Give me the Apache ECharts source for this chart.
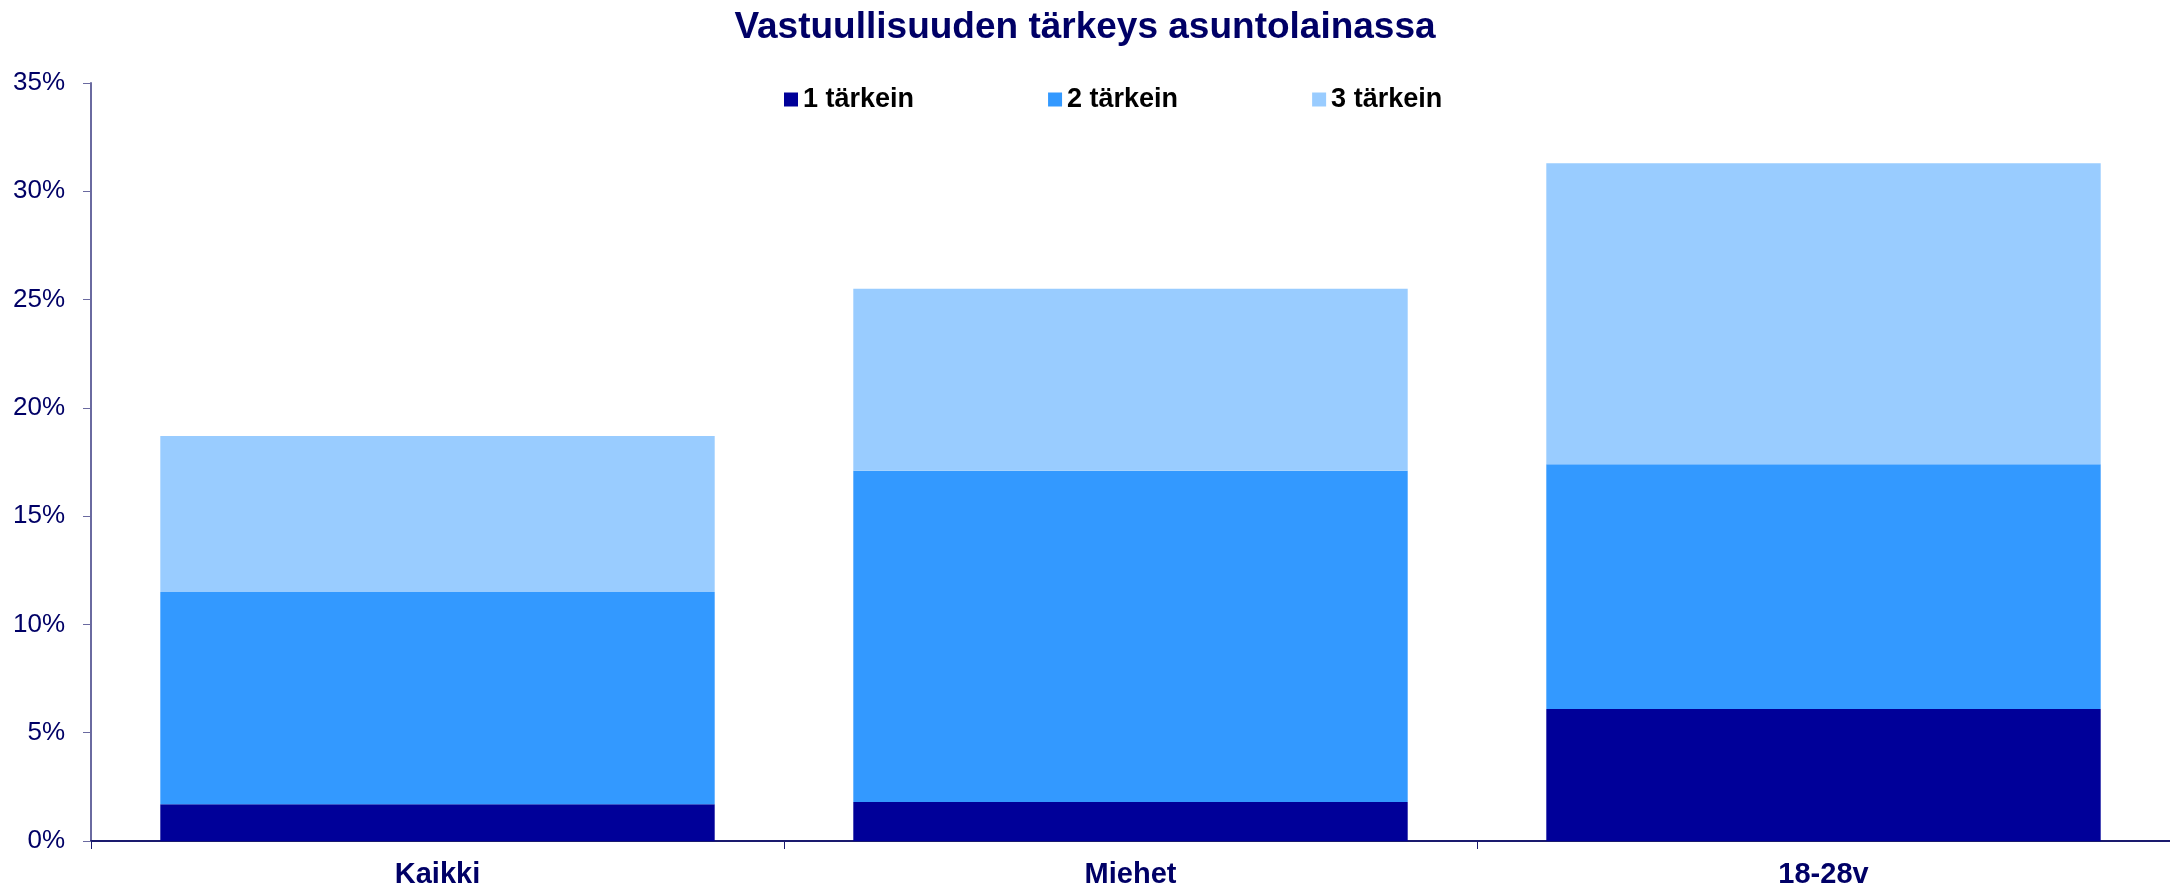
<!DOCTYPE html>
<html>
<head>
<meta charset="utf-8">
<script src="https://cdn.jsdelivr.net/npm/echarts@6/dist/echarts.min.js"></script>
<style>
html,body{margin:0;padding:0;background:#fff;}
#chart{width:2170px;height:891px;}
</style>
</head>
<body>
<div id="chart"></div>
<script>
const titleText = 'Vastuullisuuden tärkeys asuntolainassa';
const categories = ['Kaikki', 'Miehet', '18-28v'];
const seriesNames = ['1 tärkein', '2 tärkein', '3 tärkein'];
const tarkein1 = [1.7, 1.8, 6.1];
const tarkein2 = [9.8, 15.3, 11.3];
const tarkein3 = [7.2, 8.4, 13.9];
const yTicks = [0, 5, 10, 15, 20, 25, 30, 35];
const colors = ['#000099', '#3399FF', '#99CCFF'];

const chart = echarts.init(document.getElementById('chart'), null, {renderer: 'canvas'});
const font = 'Liberation Sans, Arial, sans-serif';
const values = [tarkein1, tarkein2, tarkein3];

chart.setOption({
  animation: false,
  backgroundColor: '#ffffff',
  title: {
    text: titleText,
    left: 'center',
    top: 4,
    textStyle: {fontFamily: font, fontSize: 37, fontWeight: 'bold', color: '#000066'}
  },
  legend: {
    data: seriesNames,
    left: 779,
    top: 81,
    itemWidth: 14,
    itemHeight: 14,
    itemGap: 134,
    icon: 'rect',
    textStyle: {fontFamily: font, fontSize: 27, fontWeight: 'bold', color: '#000000'}
  },
  grid: {left: 91, right: 0, top: 83, bottom: 50, containLabel: false},
  xAxis: {
    type: 'category',
    data: categories,
    axisLine: {lineStyle: {color: '#1a1a6e', width: 2}},
    axisTick: {show: true, length: 8, lineStyle: {color: '#1a1a6e'}},
    axisLabel: {fontFamily: font, fontSize: 29, fontWeight: 'bold', color: '#000066', margin: 19}
  },
  yAxis: {
    type: 'value',
    min: yTicks[0],
    max: yTicks[yTicks.length - 1],
    interval: 5,
    splitLine: {show: false},
    axisLine: {show: true, lineStyle: {color: '#6a6aa0', width: 2}},
    axisTick: {show: true, length: 8, lineStyle: {color: '#6a6aa0'}},
    axisLabel: {fontFamily: font, fontSize: 26, color: '#000066', margin: 26, formatter: v => v + '%'}
  },
  series: seriesNames.map((name, i) => ({
    name: name,
    type: 'bar',
    stack: 'total',
    data: values[i],
    barCategoryGap: '20%',
    itemStyle: {color: colors[i]}
  }))
});
</script>
</body>
</html>
